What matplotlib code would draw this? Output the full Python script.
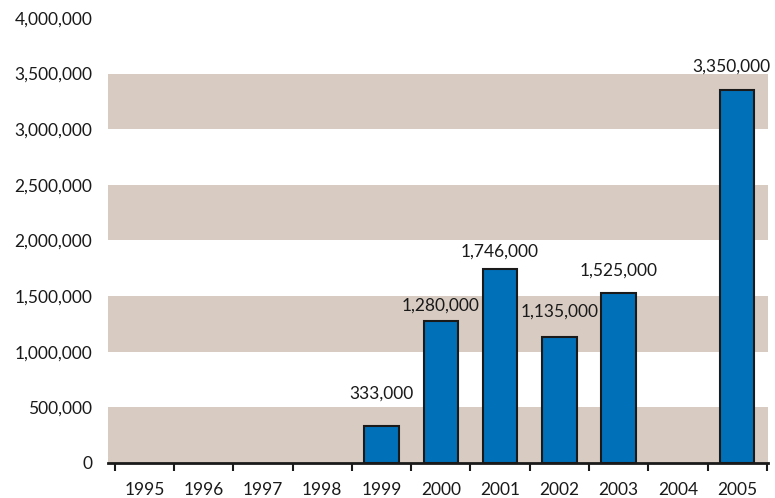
import matplotlib
matplotlib.use("Agg")
import matplotlib.pyplot as plt
import numpy as np
from matplotlib.ticker import FuncFormatter, FixedLocator

years = ["1995", "1996", "1997", "1998", "1999", "2000", "2001", "2002", "2003", "2004", "2005"]
values = [0, 0, 0, 0, 333000, 1280000, 1746000, 1135000, 1525000, 0, 3350000]
value_labels = ["", "", "", "", "333,000", "1,280,000", "1,746,000", "1,135,000", "1,525,000", "", "3,350,000"]
y_ticks = [0, 500000, 1000000, 1500000, 2000000, 2500000, 3000000, 3500000, 4000000]

plt.rcParams['font.family'] = ['Lato', 'DejaVu Sans']

fig = plt.figure(figsize=(7.75, 4.98), dpi=100)
ax = fig.add_axes([0.139, 0.0703, 0.852, 0.8937])

band_color = "#D8CBC2"
for lo in [0, 1000000, 2000000, 3000000]:
    ax.axhspan(lo, lo + 500000, color=band_color, lw=0, zorder=0)

x = np.arange(len(years))
vals = np.array(values, dtype=float)
mask = vals > 0
ax.bar(x[mask], vals[mask], width=0.58, color="#0070B8", edgecolor="#1a1a1a", linewidth=1.5, zorder=2)

# label offsets in points (visual placement)
offsets = {4: 23, 5: 11, 6: 12, 7: 18, 8: 16, 10: 17}
xshift = {10: -4}
for i, (v, lab) in enumerate(zip(values, value_labels)):
    if lab:
        ax.annotate(lab, (i, v), xytext=(xshift.get(i, 0), offsets.get(i, 12)), textcoords="offset points",
                    ha="center", va="center", fontsize=12.5, color="#1a1a1a", zorder=3)

ax.set_xlim(-0.62, 10.52)
ax.set_ylim(0, 4000000)
ax.set_yticks(y_ticks)
ax.yaxis.set_major_formatter(FuncFormatter(lambda v, p: f"{int(v):,}"))
ax.tick_params(axis="y", length=0, pad=11, labelsize=12.5, labelcolor="#1a1a1a")

ax.set_xticks(x)
ax.set_xticklabels(years)
ax.xaxis.set_minor_locator(FixedLocator(np.arange(-0.5, 11, 1.0)))
ax.tick_params(axis="x", which="major", length=0, pad=14, labelsize=12.5, labelcolor="#1a1a1a")
ax.tick_params(axis="x", which="minor", length=6, width=1.5, color="#1a1a1a", direction="out")

for s in ["top", "right", "left"]:
    ax.spines[s].set_visible(False)
ax.spines["bottom"].set_linewidth(2)
ax.spines["bottom"].set_color("#1a1a1a")
ax.spines["bottom"].set_zorder(4)

fig.savefig("out.png", dpi=100)
